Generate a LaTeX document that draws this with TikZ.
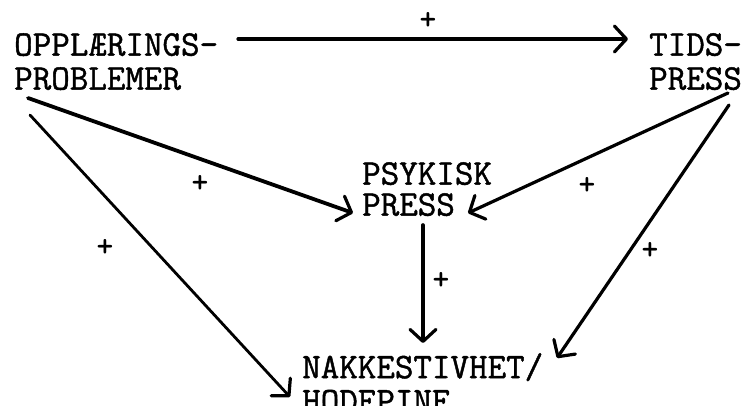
\documentclass[tikz,border=0pt]{standalone}
\usepackage{fontspec}
\newfontfamily\typew[FakeBold=1.2]{Latin Modern Mono}
\usetikzlibrary{arrows.meta,calc}
\begin{document}
\begin{tikzpicture}[x=1pt,y=-1pt,
  lbl/.style={anchor=north west,inner sep=0pt,align=left,
    font=\fontsize{36}{34}\selectfont\typew},
  plus/.style={inner sep=0pt,font=\fontsize{32}{32}\selectfont\ttfamily\bfseries},
  arr/.style={line width=3.2pt,line cap=round,
    -{Straight Barb[length=12pt,width=26pt,line width=3.2pt,round]}}]
\useasboundingbox (0,0) rectangle (744,405);

% concepts
\node[lbl] (opp) at (14,33) {OPPLÆRINGS-\\PROBLEMER};
\node[lbl] (tids) at (649,33) {TIDS-\\PRESS};
\node[lbl,font=\fontsize{36}{31}\selectfont\typew] (psy) at (362,162) {PSYKISK\\PRESS};
\node[lbl] (nak) at (302,353) {NAKKESTIVHET/\\HODEPINE};

% causal links
\draw[arr] ([shift={(224,6)}]opp.north west) -- ([shift={(-21,6)}]tids.north west);
\draw[arr,line width=3.8pt] ([shift={(14,65)}]opp.north west) -- ([shift={(-9,51)}]psy.north west);
\draw[arr,line width=2.8pt] ([shift={(16,82)}]opp.north west) -- ([shift={(-12,44)}]nak.north west);
\draw[arr] ([shift={(79,60)}]tids.north west) -- ([shift={(106,51)}]psy.north west);
\draw[arr] ([shift={(80,72)}]tids.north west) -- ([shift={(255,5)}]nak.north west);
\draw[arr,line width=3.6pt] ([shift={(61,63)}]psy.north west) -- ([shift={(121,-10)}]nak.north west);

% signs
\node[plus] (s1) at (428,21) {+};
\node[plus] (s2) at (200,184) {+};
\node[plus] (s3) at (105,248) {+};
\node[plus] (s4) at (587,186) {+};
\node[plus] (s5) at (650,251) {+};
\node[plus] (s6) at (441,281) {+};
\end{tikzpicture}
\end{document}
